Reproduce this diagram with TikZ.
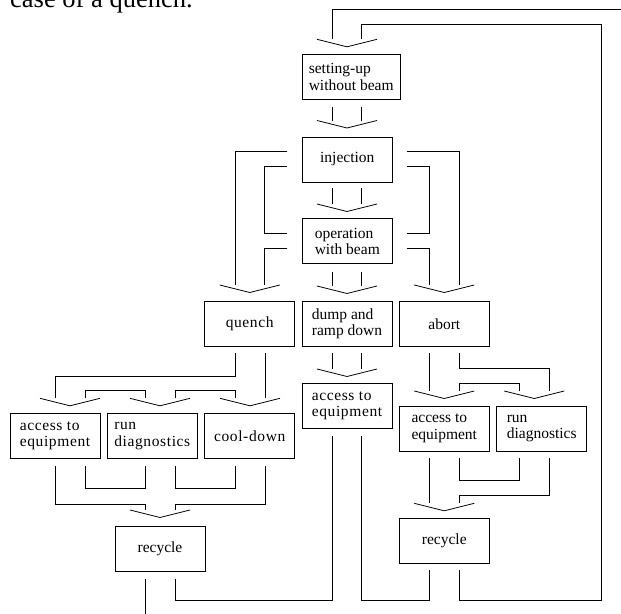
\documentclass[tikz,border=0pt]{standalone}
\usepackage{fontspec}
\setmainfont{Liberation Serif}
\newfontfamily\widefam[LetterSpace=4]{Liberation Serif}
\newcommand\boxfont{\fontsize{15.5}{16.5}\selectfont}
\newcommand\wboxfont{\widefam\fontsize{15.5}{16.5}\selectfont}
\newcommand\chev[3]{\coordinate (#1) at (#2,#3+7.5); \draw[ln] (#2-30,#3) -- (#1) -- (#2+30,#3);}
\tikzset{
  ln/.style={line width=0.8pt, black},
  box/.style={draw, line width=0.8pt, minimum width=90pt, minimum height=45pt, inner sep=0pt, align=left, font=\boxfont},
  wbox/.style={box, font=\wboxfont}
}
\begin{document}
\begin{tikzpicture}[x=1pt,y=-1pt]
\useasboundingbox (0,0) rectangle (621,613);
\fill[white] (0,0) rectangle (621,613);
% cut text line at top
\node[anchor=base west, inner sep=0pt, font=\fontsize{26.5}{30}\selectfont] (caption) at (10,8) {case of a quench.};
% boxes
\node[box, minimum width=97.7pt, minimum height=45.3pt] (setup) at (351.2,76.7) {setting-up\\without beam};
\node[box] (inj) at (347.3,159.5) {injection};
\node[box] (oper) at (347.3,241.3) {operation\\with beam};
\node[wbox] (quench) at (249.7,323.9) {quench};
\node[box] (dump) at (347,323.9) {dump and\\ramp down};
\node[box] (abort) at (444.3,323.9) {abort};
\node[wbox] (acc1) at (55,435.9) {access to\\equipment};
\node[wbox] (diag1) at (152.3,435.9) {run\\diagnostics};
\node[wbox] (cool) at (249.7,435.9) {cool-down};
\node[wbox] (acc2) at (347,405.8) {access to\\equipment};
\node[box] (acc3) at (444.3,428.4) {access to\\equipment};
\node[box] (diag3) at (541.7,428.4) {run\\diagnostics};
\node[box] (rec1) at (160,548.4) {recycle};
\node[box] (rec3) at (444.3,540.8) {recycle};
% top loops into setting-up
\chev{tA}{347}{39.3}
\draw[ln] (332.3,39.3) -- (332.3,9.3) -- (625,9.3);
\draw[ln] (361.7,39.3) -- (361.7,24.3) -- (601.7,24.3) -- (601.7,600) -- (459.3,600) -- (459.3,570);
% setting-up -> injection
\draw[ln] (332.3,106.7) -- (332.3,120.5) (361.7,106.7) -- (361.7,120.5);
\chev{tB}{347}{120.5}
% injection -> operation
\draw[ln] (332.3,188.3) -- (332.3,204) (361.7,188.3) -- (361.7,204);
\chev{tC}{347}{204}
% operation -> dump
\draw[ln] (332.3,271.7) -- (332.3,286) (361.7,271.7) -- (361.7,286);
\chev{tD}{347}{286}
% left side: to quench
\draw[ln] (287.3,151.7) -- (235,151.7) -- (235,285);
\draw[ln] (287.3,166) -- (264.3,166) -- (264.3,233.3) -- (287.3,233.3);
\draw[ln] (287.3,248.3) -- (264.3,248.3) -- (264.3,285);
\chev{tE}{249.7}{285}
% right side: to abort
\draw[ln] (407.3,151.7) -- (459,151.7) -- (459,285);
\draw[ln] (407.3,166) -- (429.3,166) -- (429.3,233.3) -- (407.3,233.3);
\draw[ln] (407.3,248.3) -- (429.3,248.3) -- (429.3,285);
\chev{tF}{444.2}{285}
% below quench
\draw[ln] (235,353.3) -- (235,376) -- (55,376) -- (55,398.3);
\draw[ln] (265,353.3) -- (265,398.3);
\draw[ln] (85,398.3) -- (85,390) -- (145,390) -- (145,398.3);
\draw[ln] (175,398.3) -- (175,390) -- (235,390) -- (235,398.3);
\chev{tG}{70}{398.3}
\chev{tH}{160}{398.3}
\chev{tI}{250}{398.3}
% below left row
\draw[ln] (85,466) -- (85,488.3) -- (145,488.3) -- (145,466);
\draw[ln] (175,466) -- (175,488.3) -- (235,488.3) -- (235,466);
\draw[ln] (55,466) -- (55,504) -- (145,504) -- (145,510);
\draw[ln] (265,466) -- (265,504) -- (175,504) -- (175,510);
\chev{tJ}{160}{510}
% below left recycle
\draw[ln] (145,579) -- (145,620);
\draw[ln] (175,579) -- (175,600) -- (332.3,600) -- (332.3,435.7);
\draw[ln] (361.7,435.7) -- (361.7,600) -- (429.3,600) -- (429.3,570);
% dump -> access (middle)
\draw[ln] (332.3,353.3) -- (332.3,369) (361.7,353.3) -- (361.7,369);
\chev{tK}{347}{369}
% below abort
\draw[ln] (429.3,353.3) -- (429.3,391);
\draw[ln] (459.3,353.3) -- (459.3,368.3) -- (549.3,368.3) -- (549.3,391);
\draw[ln] (459.3,391) -- (459.3,383.3) -- (519.3,383.3) -- (519.3,391);
\chev{tL}{444.3}{391}
\chev{tM}{534.3}{391}
% below right row
\draw[ln] (429.3,458.3) -- (429.3,503.3);
\draw[ln] (459.3,458.3) -- (459.3,480.7) -- (519.3,480.7) -- (519.3,458.3);
\draw[ln] (549.3,458.3) -- (549.3,495.7) -- (459.3,495.7) -- (459.3,503.3);
\chev{tN}{444.3}{503.3}
\end{tikzpicture}
\end{document}
